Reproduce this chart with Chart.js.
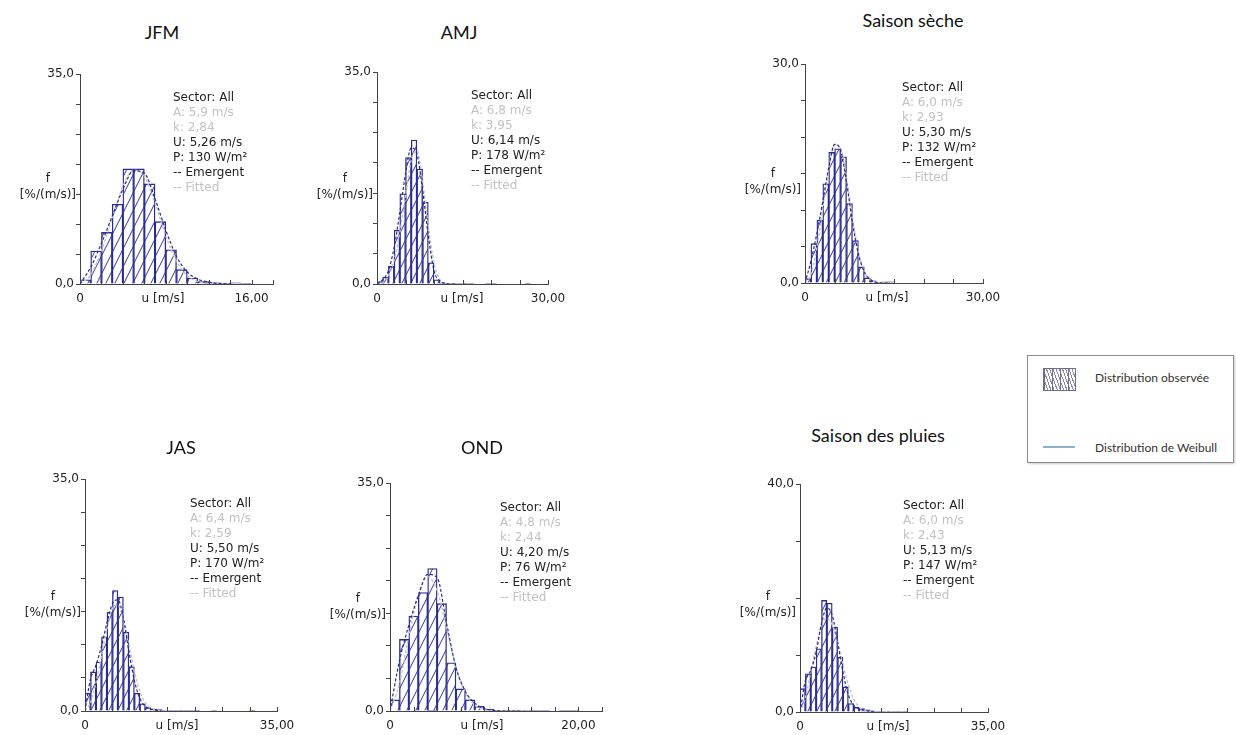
<!DOCTYPE html>
<html>
<head>
<meta charset="utf-8">
<script src="https://cdn.jsdelivr.net/npm/chart.js@4.4.0/dist/chart.umd.min.js"></script>
<style>
  body { margin: 0; width: 1236px; height: 735px; background: #fff; position: relative; overflow: hidden; font-family: 'DejaVu Sans', sans-serif; color: #222; }
  canvas { position: absolute; }
  .t { position: absolute; white-space: nowrap; }
  .title { font-family: Lato, sans-serif; font-size: 18px; color: #111; transform: translate(-50%, -50%); }
  .stats { font-size: 12px; line-height: 15px; color: #222; }
  .stats .g { color: #c2c2c2; }
  .ytitle { font-size: 12px; line-height: 16px; text-align: center; color: #222; }
  .xt { font-size: 12px; color: #222; transform: translate(-50%, -50%); }
  .leg { font-family: Lato, sans-serif; font-size: 12px; color: #333; transform: translateY(-50%); }
</style>
</head>
<body>
<script>
// histogram bins are 1 m/s wide, values in %/(m/s)
const jfmBars = [0.7, 5.5, 8.6, 13.3, 19.2, 19.2, 16.7, 10.4, 5.7, 2.4, 1.0, 0.4, 0.2, 0.15, 0.2, 0.05];
const amjBars = [0.4, 1.1, 2.9, 8.9, 14.9, 20.9, 23.8, 19.0, 13.5, 3.5, 0.7, 0.2, 0.1, 0.1, 0.1, 0.1, 0.1, 0, 0, 0.1, 0.1, 0, 0, 0, 0, 0, 0.1];
const secheBars = [0.6, 5.4, 8.6, 13.6, 17.9, 18.4, 17.3, 10.9, 5.8, 2.2, 0.7, 0.3, 0.1, 0.15, 0.15];
const jasBars = [2.7, 5.9, 7.4, 11.2, 14.9, 18.2, 17.2, 11.9, 6.7, 2.7, 1.1, 0.5, 0.3, 0.2, 0.15, 0.1, 0.1, 0.1, 0.1, 0.1, 0.1, 0, 0, 0.1, 0, 0, 0, 0, 0, 0, 0.1];
const ondBars = [1.7, 11.0, 14.6, 18.2, 21.9, 16.5, 7.4, 3.4, 1.7, 0.7, 0.3, 0.1, 0.1, 0.1, 0.1, 0.1, 0.1, 0, 0.1, 0.1];
const pluiesBars = [4.1, 6.7, 7.9, 11.1, 19.6, 19.1, 14.9, 9.6, 4.4, 1.5, 0.8, 0.6, 0.4, 0.2, 0.1, 0.1, 0.1, 0.1, 0.1, 0.1];

// curves read at integer wind speeds (m/s)
const curveU = [0, 1, 2, 3, 4, 5, 6, 7, 8, 9, 10, 11, 12, 13, 14];
const jfmEmergent = [0, 2.8, 6.8, 11.3, 15.8, 18.9, 18.5, 14.2, 9.0, 4.6, 2.0, 0.8, 0.3, 0.1, 0];
const jfmFitted = [0, 1.5, 5.5, 11.0, 16.3, 19.0, 18.0, 13.5, 8.0, 3.8, 1.4, 0.4, 0.1, 0, 0];
const amjEmergent = [0, 0.7, 2.2, 6.0, 11.8, 18.2, 22.5, 21.5, 15.5, 8.0, 2.2, 0.5, 0.1, 0, 0];
const amjFitted = [0, 0.2, 1.3, 3.9, 8.5, 14.5, 20.5, 22.0, 17.0, 9.5, 3.5, 0.8, 0.1, 0, 0];
const secheEmergent = [0, 3.0, 6.8, 11.2, 15.8, 19.0, 18.2, 13.8, 8.3, 4.0, 1.5, 0.5, 0.1, 0, 0];
const secheFitted = [0, 1.2, 4.9, 10.2, 15.6, 19.0, 18.5, 14.5, 9.0, 4.3, 1.6, 0.45, 0.1, 0, 0];
const jasEmergent = [0, 4.8, 6.9, 9.8, 13.3, 16.2, 16.8, 14.0, 9.0, 4.6, 1.9, 0.7, 0.3, 0.1, 0];
const jasFitted = [0, 1.3, 4.3, 8.3, 12.4, 15.5, 16.0, 13.8, 10.0, 6.0, 3.0, 1.2, 0.4, 0.1, 0];
const ondEmergent = [0, 7.7, 13.2, 17.7, 21.0, 20.5, 13.5, 6.7, 3.0, 1.2, 0.4, 0.1, 0, 0, 0];
const ondFitted = [0, 4.2, 11.5, 17.8, 20.6, 18.5, 12.8, 6.8, 2.8, 0.9, 0.2, 0.05, 0, 0, 0];
const pluiesEmergent = [0, 5.5, 7.3, 10.5, 15.5, 18.3, 17.0, 12.3, 7.0, 3.0, 1.2, 0.6, 0.3, 0.1, 0];
const pluiesFitted = [0, 2.5, 7.0, 11.5, 15.2, 16.5, 15.3, 12.2, 8.3, 4.8, 2.3, 0.9, 0.3, 0.1, 0];

const jfmStats = ['Sector: All', 'A: 5,9 m/s', 'k: 2,84', 'U: 5,26 m/s', 'P: 130 W/m²', '-- Emergent', '-- Fitted'];
const amjStats = ['Sector: All', 'A: 6,8 m/s', 'k: 3,95', 'U: 6,14 m/s', 'P: 178 W/m²', '-- Emergent', '-- Fitted'];
const secheStats = ['Sector: All', 'A: 6,0 m/s', 'k: 2,93', 'U: 5,30 m/s', 'P: 132 W/m²', '-- Emergent', '-- Fitted'];
const jasStats = ['Sector: All', 'A: 6,4 m/s', 'k: 2,59', 'U: 5,50 m/s', 'P: 170 W/m²', '-- Emergent', '-- Fitted'];
const ondStats = ['Sector: All', 'A: 4,8 m/s', 'k: 2,44', 'U: 4,20 m/s', 'P: 76 W/m²', '-- Emergent', '-- Fitted'];
const pluiesStats = ['Sector: All', 'A: 6,0 m/s', 'k: 2,43', 'U: 5,13 m/s', 'P: 147 W/m²', '-- Emergent', '-- Fitted'];

const panels = [
  { title: 'JFM', bars: jfmBars, emergent: jfmEmergent, fitted: jfmFitted, stats: jfmStats,
    ymax: 35, ystep: 5, xmax: 18, xstep: 2, xlabel: 16,
    ax: 80, top: 73, bot: 284, right: 273, titleXY: [162, 32], statsXY: [173, 90], fY: 170, uX: 163 },
  { title: 'AMJ', bars: amjBars, emergent: amjEmergent, fitted: amjFitted, stats: amjStats,
    ymax: 35, ystep: 5, xmax: 30, xstep: 5, xlabel: 30,
    ax: 377, top: 71, bot: 284, right: 548, titleXY: [459, 32], statsXY: [471, 88], fY: 170, uX: 462 },
  { title: 'Saison sèche', bars: secheBars, emergent: secheEmergent, fitted: secheFitted, stats: secheStats,
    ymax: 30, ystep: 5, xmax: 30, xstep: 5, xlabel: 30,
    ax: 805, top: 63, bot: 283, right: 983, titleXY: [913, 20], statsXY: [902, 80], fY: 165, uX: 887 },
  { title: 'JAS', bars: jasBars, emergent: jasEmergent, fitted: jasFitted, stats: jasStats,
    ymax: 35, ystep: 5, xmax: 35, xstep: 5, xlabel: 35,
    ax: 85, top: 478, bot: 711, right: 277, titleXY: [181, 447], statsXY: [190, 496], fY: 588, uX: 177 },
  { title: 'OND', bars: ondBars, emergent: ondEmergent, fitted: ondFitted, stats: ondStats,
    ymax: 35, ystep: 5, xmax: 22.5, xstep: 2.5, xlabel: 20,
    ax: 390, top: 482, bot: 711, right: 602, titleXY: [482, 447], statsXY: [500, 500], fY: 590, uX: 482 },
  { title: 'Saison des pluies', bars: pluiesBars, emergent: pluiesEmergent, fitted: pluiesFitted, stats: pluiesStats,
    ymax: 40, ystep: 10, xmax: 35, xstep: 5, xlabel: 35,
    ax: 800, top: 483, bot: 712, right: 988, titleXY: [878, 435], statsXY: [903, 498], fY: 588, uX: 888 }
];

const NAVY = '#2b2b8f';
const AXIS = '#444';

function hatchPattern(ctx) {
  const c = document.createElement('canvas');
  c.width = 9; c.height = 18;
  const g = c.getContext('2d');
  g.strokeStyle = '#34349a';
  g.lineWidth = 1;
  for (let k = -1; k <= 1; k++) {
    g.beginPath();
    g.moveTo(k * 9 - 1, 20);
    g.lineTo(k * 9 + 10, -2);
    g.stroke();
  }
  return ctx.createPattern(c, 'repeat');
}

// x ticks point up into the plot, like the original
const innerTicks = {
  id: 'innerTicks',
  afterDraw(chart) {
    const xs = chart.scales.x, b = chart.chartArea.bottom, g = chart.ctx;
    g.save();
    g.strokeStyle = AXIS;
    g.lineWidth = 1;
    xs.ticks.forEach(t => {
      const px = Math.round(xs.getPixelForValue(t.value)) + 0.5;
      g.beginPath(); g.moveTo(px, b); g.lineTo(px, b - 4); g.stroke();
    });
    g.restore();
  }
};

function addText(cls, html, left, top, extra) {
  const d = document.createElement('div');
  d.className = 't ' + cls;
  d.innerHTML = html;
  d.style.left = left + 'px';
  d.style.top = top + 'px';
  if (extra) Object.assign(d.style, extra);
  document.body.appendChild(d);
  return d;
}

const padL = 45, padT = 8, padR = 26, padB = 26;
const comma = (v, d) => v.toFixed(d).replace('.', ',');

panels.forEach(p => {
  const c = document.createElement('canvas');
  c.width = p.right - p.ax + padL + padR;
  c.height = p.bot - p.top + padT + padB;
  c.style.left = (p.ax - padL) + 'px';
  c.style.top = (p.top - padT) + 'px';
  document.body.appendChild(c);
  const ctx = c.getContext('2d');

  new Chart(ctx, {
    type: 'bar',
    data: {
      datasets: [
        {
          type: 'line', label: 'Emergent', order: 1,
          data: curveU.map((u, i) => ({ x: u, y: p.emergent[i] })),
          borderColor: NAVY, borderWidth: 1.2, borderDash: [3, 2],
          pointRadius: 0, fill: false, cubicInterpolationMode: 'monotone'
        },
        {
          type: 'line', label: 'Fitted', order: 2,
          data: curveU.map((u, i) => ({ x: u, y: p.fitted[i] })),
          borderColor: '#c4c4c4', borderWidth: 1.4, borderDash: [3, 2],
          pointRadius: 0, fill: false, cubicInterpolationMode: 'monotone'
        },
        {
          type: 'bar', label: 'Observed', order: 3,
          data: p.bars.map((v, i) => ({ x: i + 0.5, y: v })),
          backgroundColor: hatchPattern(ctx),
          borderColor: NAVY, borderWidth: 0.7,
          barPercentage: 1, categoryPercentage: 1
        }
      ]
    },
    options: {
      responsive: false,
      animation: false,
      devicePixelRatio: 1,
      layout: { padding: { left: 0, top: padT, right: padR, bottom: 0 } },
      plugins: { legend: { display: false }, tooltip: { enabled: false } },
      scales: {
        x: {
          type: 'linear', min: 0, max: p.xmax, offset: false,
          afterFit: s => { s.height = padB; },
          grid: { drawOnChartArea: false, drawTicks: false },
          border: { display: true, color: AXIS, width: 1 },
          ticks: {
            stepSize: p.xstep, autoSkip: false, maxRotation: 0, padding: 8,
            color: '#222', font: { family: 'DejaVu Sans', size: 12 },
            callback: v => v === 0 ? '0' : (Math.abs(v - p.xlabel) < 1e-6 ? comma(p.xlabel, 2) : '')
          }
        },
        y: {
          min: 0, max: p.ymax,
          afterFit: s => { s.width = padL; },
          grid: { drawOnChartArea: false, drawTicks: true, tickLength: 4, color: AXIS },
          border: { display: true, color: AXIS, width: 1 },
          ticks: {
            stepSize: p.ystep, padding: 2,
            color: '#222', font: { family: 'DejaVu Sans', size: 12 },
            callback: v => v === 0 ? '0,0' : (v === p.ymax ? comma(p.ymax, 1) : '')
          }
        }
      }
    },
    plugins: [innerTicks]
  });

  addText('title', p.title, p.titleXY[0], p.titleXY[1]);
  addText('stats', p.stats.map((s, i) => (i === 1 || i === 2 || i === 6) ? '<span class="g">' + s + '</span>' : s).join('<br>'),
    p.statsXY[0], p.statsXY[1]);
  addText('ytitle', 'f<br>[%/(m/s)]', 0, p.fY, { left: 'auto', right: (1236 - p.ax + 4) + 'px' });
  addText('xt', 'u [m/s]', p.uX, p.bot + 14);
});

// legend box
const box = document.createElement('div');
Object.assign(box.style, { position: 'absolute', left: '1027px', top: '355px', width: '205px', height: '106px',
  border: '1px solid #8c8c8c', boxShadow: '1px 1px 2px #ccc', background: '#fff' });
document.body.appendChild(box);
const icon = document.createElement('div');
Object.assign(icon.style, { position: 'absolute', left: '1043px', top: '368px', width: '31px', height: '21px',
  border: '1px solid #6e6e92',
  background: 'repeating-linear-gradient(90deg, #6e6e92 0 1px, transparent 1px 8px), repeating-linear-gradient(70deg, #8a8aaa 0 1px, #fff 1px 3px)' });
document.body.appendChild(icon);
const wline = document.createElement('div');
Object.assign(wline.style, { position: 'absolute', left: '1043px', top: '446px', width: '32px', height: '2px', background: '#8fb0cc' });
document.body.appendChild(wline);
addText('leg', 'Distribution observée', 1095, 377);
addText('leg', 'Distribution de Weibull', 1095, 447);
</script>
</body>
</html>
